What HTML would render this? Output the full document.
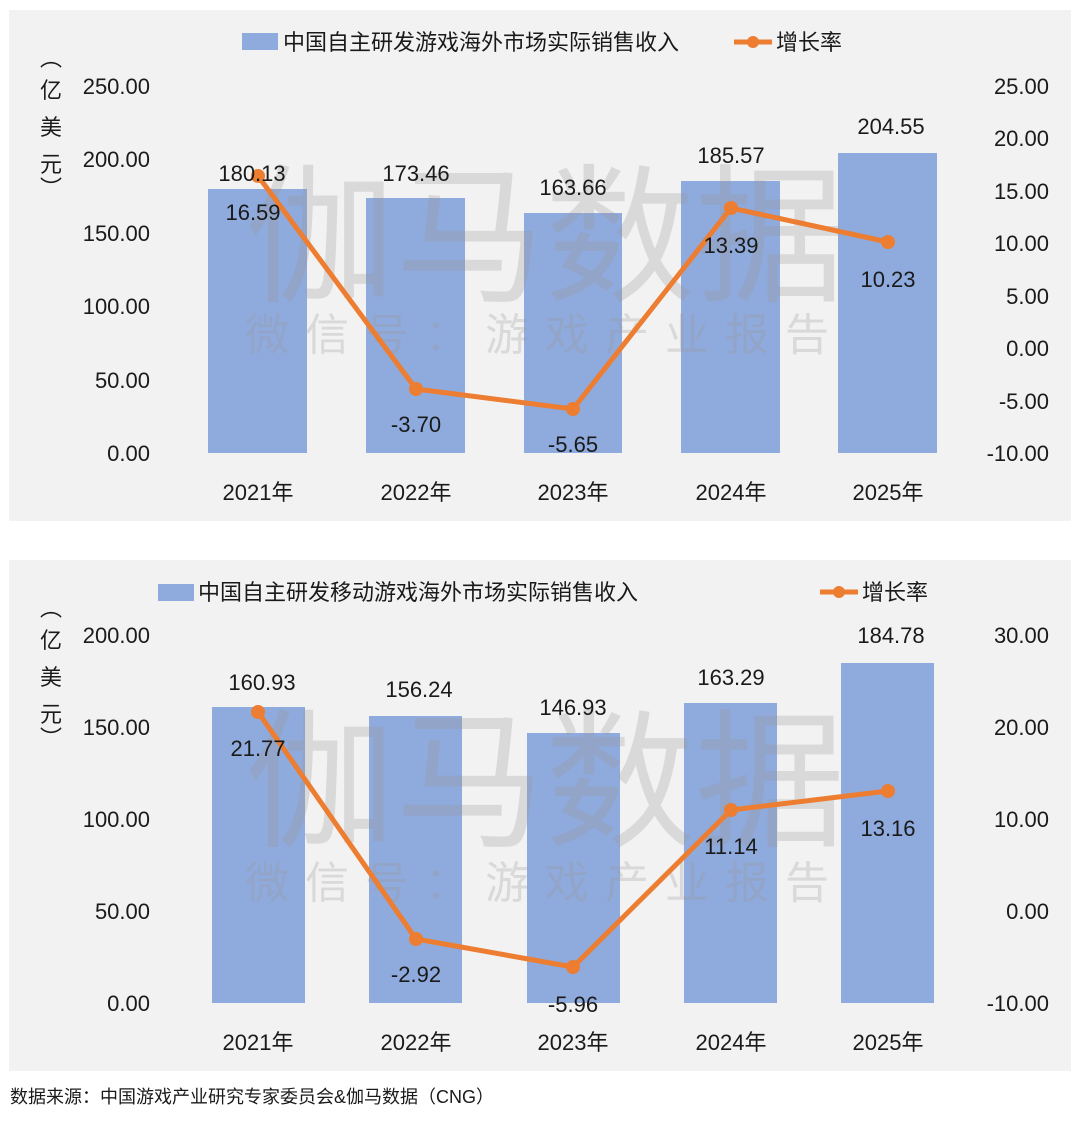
<!DOCTYPE html>
<html><head><meta charset="utf-8"><style>
body{margin:0;background:#fff;}
svg text{font-family:"Liberation Sans","Noto Sans CJK SC",sans-serif;fill:#1a1a1a;}
svg text.wm{fill:#9a9a9a;fill-opacity:0.28;font-family:"Noto Sans CJK SC",sans-serif;}
</style></head><body>
<svg width="1080" height="1124" viewBox="0 0 1080 1124" xmlns="http://www.w3.org/2000/svg">
<rect x="9" y="10" width="1062" height="511" fill="#f2f2f2"/>
<rect x="9" y="560" width="1062" height="511" fill="#f2f2f2"/>
<!-- Chart 1 -->
<g font-size="22">
<rect x="242" y="33" width="36" height="17" fill="#8faadc"/>
<text x="283" y="50">中国自主研发游戏海外市场实际销售收入</text>
<line x1="734" y1="42" x2="772" y2="42" stroke="#ed7d31" stroke-width="5"/>
<circle cx="753" cy="42" r="6" fill="#ed7d31"/>
<text x="776" y="50">增长率</text>
<text x="40" y="66">︵</text>
<text x="40" y="98">亿</text><text x="40" y="135">美</text><text x="40" y="172">元</text>
<text x="40" y="196">︶</text>
<g text-anchor="end">
<text x="150" y="94">250.00</text><text x="150" y="167">200.00</text><text x="150" y="241">150.00</text>
<text x="150" y="314">100.00</text><text x="150" y="388">50.00</text><text x="150" y="461">0.00</text>
<text x="1049" y="94">25.00</text><text x="1049" y="146">20.00</text><text x="1049" y="199">15.00</text>
<text x="1049" y="251">10.00</text><text x="1049" y="304">5.00</text><text x="1049" y="356">0.00</text>
<text x="1049" y="409">-5.00</text><text x="1049" y="461">-10.00</text>
</g>
<g fill="#8faadc">
<rect x="208" y="189" width="99" height="264"/><rect x="366" y="198" width="99" height="255"/>
<rect x="524" y="213" width="98" height="240"/><rect x="681" y="181" width="99" height="272"/>
<rect x="838" y="153" width="99" height="300"/>
</g>
<text class="wm" x="545" y="290" font-size="150" text-anchor="middle">伽马数据</text>
<text class="wm" x="545" y="350" font-size="44" text-anchor="middle" letter-spacing="16">微信号：游戏产业报告</text>
<polyline points="258,176 416,389 573,409 731,208 888,242" fill="none" stroke="#ed7d31" stroke-width="5"/>
<g fill="#ed7d31"><circle cx="258" cy="176" r="7"/><circle cx="416" cy="389" r="7"/><circle cx="573" cy="409" r="7"/><circle cx="731" cy="208" r="7"/><circle cx="888" cy="242" r="7"/></g>
<g text-anchor="middle">
<text x="252" y="181">180.13</text><text x="416" y="181">173.46</text><text x="573" y="195">163.66</text>
<text x="731" y="163">185.57</text><text x="891" y="134">204.55</text>
<text x="253" y="220">16.59</text><text x="416" y="432">-3.70</text><text x="573" y="452">-5.65</text>
<text x="731" y="253">13.39</text><text x="888" y="287">10.23</text>
<text x="258" y="500">2021年</text><text x="416" y="500">2022年</text><text x="573" y="500">2023年</text>
<text x="731" y="500">2024年</text><text x="888" y="500">2025年</text>
</g>
</g>
<!-- Chart 2 -->
<g font-size="22">
<rect x="158" y="584" width="36" height="17" fill="#8faadc"/>
<text x="198" y="600">中国自主研发移动游戏海外市场实际销售收入</text>
<line x1="820" y1="592" x2="858" y2="592" stroke="#ed7d31" stroke-width="5"/>
<circle cx="839" cy="592" r="6" fill="#ed7d31"/>
<text x="862" y="600">增长率</text>
<text x="40" y="616">︵</text>
<text x="40" y="648">亿</text><text x="40" y="685">美</text><text x="40" y="722">元</text>
<text x="40" y="746">︶</text>
<g text-anchor="end">
<text x="150" y="643">200.00</text><text x="150" y="735">150.00</text><text x="150" y="827">100.00</text>
<text x="150" y="919">50.00</text><text x="150" y="1011">0.00</text>
<text x="1049" y="643">30.00</text><text x="1049" y="735">20.00</text><text x="1049" y="827">10.00</text>
<text x="1049" y="919">0.00</text><text x="1049" y="1011">-10.00</text>
</g>
<g fill="#8faadc">
<rect x="212" y="707" width="93" height="296"/><rect x="369" y="716" width="93" height="287"/>
<rect x="527" y="733" width="93" height="270"/><rect x="684" y="703" width="93" height="300"/>
<rect x="841" y="663" width="93" height="340"/>
</g>
<text class="wm" x="545" y="835" font-size="150" text-anchor="middle">伽马数据</text>
<text class="wm" x="545" y="898" font-size="44" text-anchor="middle" letter-spacing="16">微信号：游戏产业报告</text>
<polyline points="258,712 416,939 573,967 731,810 888,791" fill="none" stroke="#ed7d31" stroke-width="5"/>
<g fill="#ed7d31"><circle cx="258" cy="712" r="7"/><circle cx="416" cy="939" r="7"/><circle cx="573" cy="967" r="7"/><circle cx="731" cy="810" r="7"/><circle cx="888" cy="791" r="7"/></g>
<g text-anchor="middle">
<text x="262" y="690">160.93</text><text x="419" y="697">156.24</text><text x="573" y="715">146.93</text>
<text x="731" y="685">163.29</text><text x="891" y="643">184.78</text>
<text x="258" y="756">21.77</text><text x="416" y="982">-2.92</text><text x="573" y="1012">-5.96</text>
<text x="731" y="854">11.14</text><text x="888" y="836">13.16</text>
<text x="258" y="1050">2021年</text><text x="416" y="1050">2022年</text><text x="573" y="1050">2023年</text>
<text x="731" y="1050">2024年</text><text x="888" y="1050">2025年</text>
</g>
</g>
<text x="10" y="1103" font-size="18">数据来源：中国游戏产业研究专家委员会&amp;伽马数据（CNG）</text>
</svg>
</body></html>
